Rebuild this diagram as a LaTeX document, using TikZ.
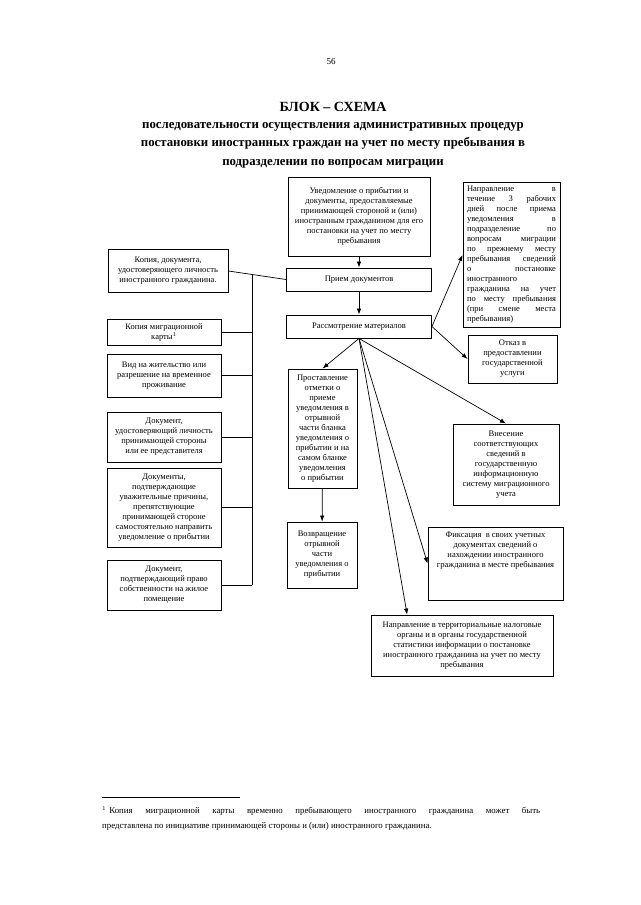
\documentclass[tikz,border=0pt]{standalone}
\usepackage{fontspec}
\setmainfont{Liberation Serif}
\usetikzlibrary{arrows.meta,calc}
\begin{document}
\begin{tikzpicture}[x=1pt,y=-1pt]
\tikzstyle{box}=[draw, line width=0.9pt, align=center, inner sep=1pt, font=\fontsize{8.5}{10}\selectfont]
\tikzstyle{link}=[line width=0.7pt]
\tikzstyle{arr}=[line width=0.7pt, -{Latex[length=6pt,width=4.5pt]}]
\useasboundingbox (0,0) rectangle (640,905);
\node (page) at (331,62) {\fontsize{9}{11}\selectfont 56};
\node (title) at (333,107) {\fontsize{14}{17}\selectfont\bfseries БЛОК – СХЕМА};
\node[align=center, font=\fontsize{12.8}{18.5}\selectfont\bfseries] (subtitle) at (333,145) {последовательности осуществления административных процедур\\постановки иностранных граждан на учет по месту пребывания в\\подразделении по вопросам миграции};
\node[box, minimum width=142, minimum height=79] (notice) at (359,216.5) {Уведомление о прибытии и\\документы, предоставляемые\\принимающей стороной и (или)\\иностранным гражданином для его\\постановки на учет по месту\\пребывания};
\node[box, minimum width=145, minimum height=23] (intake) at (359,279.5) {Прием документов};
\node[box, minimum width=145, minimum height=23] (review) at (359,326.5) {Рассмотрение материалов};
\node[box, minimum height=144, inner sep=4pt, text width=89, align=justify] (transfer) at (511.5,255) {\tolerance=10000\hbadness=10000\hyphenpenalty=10000 Направление в\linebreak течение 3 рабочих\linebreak дней после приема\linebreak уведомления в\linebreak подразделение по\linebreak вопросам миграции\linebreak по прежнему месту\linebreak пребывания сведений\linebreak о постановке\linebreak иностранного\newline гражданина на учет\linebreak по месту пребывания\linebreak (при смене места\linebreak пребывания)};
\node[box, minimum width=89, minimum height=48] (refusal) at (512.5,359) {Отказ в\\предоставлении\\государственной\\услуги};
\node[box, minimum width=69, minimum height=119] (mark) at (322.5,428.5) {Проставление\\отметки о\\приеме\\уведомления в\\отрывной\\части бланка\\уведомления о\\прибытии и на\\самом бланке\\уведомления\\о прибытии};
\node[box, minimum width=106, minimum height=81] (entry) at (506,464.5) {Внесение\\соответствующих\\сведений в\\государственную\\информационную\\систему миграционного\\учета};
\node[box, minimum width=70, minimum height=66] (detach) at (322,555) {Возвращение\\отрывной\\части\\уведомления о\\прибытии};
\node[box, minimum width=135, minimum height=73] (record) at (495.5,563.5) {Фиксация\ \ в своих учетных\\документах сведений о\\нахождении иностранного\\гражданина в месте пребывания\\[14pt]\strut};
\node[box, minimum width=182, minimum height=61] (tax) at (462,645.5) {Направление в территориальные налоговые\\органы и в органы государственной\\статистики информации о постановке\\иностранного гражданина на учет по месту\\пребывания};
\node[box, minimum width=120, minimum height=43] (passcopy) at (168,271) {Копия, документа,\\удостоверяющего личность\\иностранного гражданина.};
\node[box, minimum width=114, minimum height=26] (cardcopy) at (164,332) {Копия миграционной\\карты$^1$};
\node[box, minimum width=114, minimum height=43] (residence) at (164,375.5) {Вид на жительство или\\разрешение на временное\\проживание};
\node[box, minimum width=114, minimum height=50] (hostid) at (164,437) {Документ,\\удостоверяющий личность\\принимающей стороны\\или ее представителя};
\node[box, minimum width=114, minimum height=79] (reasons) at (164,507.5) {Документы,\\подтверждающие\\уважительные причины,\\препятствующие\\принимающей стороне\\самостоятельно направить\\уведомление о прибытии};
\node[box, minimum width=114, minimum height=50] (ownership) at (164,585) {Документ,\\подтверждающий право\\собственности на жилое\\помещение};
\coordinate (bustop) at (intersection of passcopy.east--intake.west and 252,0--252,900);
\draw[link] (passcopy.east) -- (intake.west);
\draw[link] (bustop) -- (ownership.east -| bustop);
\foreach \n in {cardcopy,residence,hostid,reasons,ownership}
  \draw[link] (\n.east) -- (\n.east -| bustop);
\path[arr] (notice) edge (intake)
           (intake) edge (review)
           (mark) edge (detach);
\draw[arr] (review.east) -- (transfer.west);
\draw[arr] (review.east) -- (refusal.west);
\draw[arr] (review.south) -- (mark.north);
\draw[arr] (review.south) -- (entry.north);
\draw[arr] (review.south) -- (record.west);
\draw[arr] (review.south) -- ($(tax.north west)!0.2!(tax.north east)$);
\draw[line width=0.6pt] (102,797) -- (240,797);
\node[anchor=north west, inner sep=0pt, text width=438, align=justify, font=\fontsize{8.8}{14.5}\selectfont] (footnote) at (102,806) {\tolerance=10000 $^1$\hspace{3pt}Копия миграционной карты временно пребывающего иностранного гражданина может быть\linebreak представлена по инициативе принимающей стороны и (или) иностранного гражданина.};
\end{tikzpicture}
\end{document}
